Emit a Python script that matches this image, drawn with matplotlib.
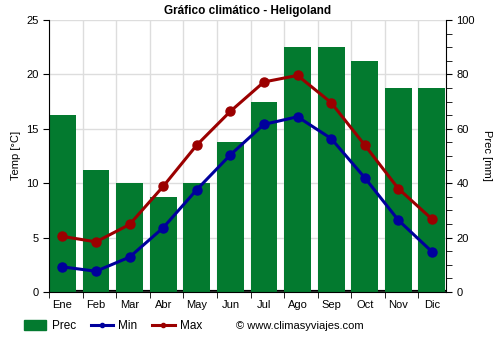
import numpy as np
import matplotlib.pyplot as plt
from matplotlib.patches import Patch
from matplotlib.lines import Line2D

plt.rcParams['font.family'] = ['Liberation Sans', 'DejaVu Sans']

meses = ['Ene', 'Feb', 'Mar', 'Abr', 'May', 'Jun', 'Jul', 'Ago', 'Sep', 'Oct', 'Nov', 'Dic']
prec = [65, 45, 40, 35, 40, 55, 70, 90, 90, 85, 75, 75]
t_min = [2.3, 1.9, 3.2, 5.9, 9.4, 12.6, 15.4, 16.1, 14.1, 10.5, 6.6, 3.7]
t_max = [5.1, 4.6, 6.2, 9.7, 13.5, 16.6, 19.3, 19.9, 17.4, 13.5, 9.5, 6.7]

verde = '#037a2f'
azul = '#00009c'
rojo = '#9b0000'

fig = plt.figure(figsize=(5, 3.5), dpi=100)
ax = fig.add_axes([0.098, 0.166, 0.794, 0.777])
ax2 = ax.twinx()
ax.set_zorder(2)
ax2.set_zorder(1)
ax.patch.set_visible(False)

x = np.arange(len(meses))
xlim = (-0.4, 11.42)

# precipitacion (eje derecho, capa de abajo con la rejilla)
ax2.set_xlim(*xlim)
ax2.set_ylim(0, 100)
ax2.set_yticks(np.arange(0, 101, 20))
ax2.set_yticks(np.arange(0, 101, 5), minor=True)
ax2.grid(True, axis='y', which='major', color='#dddddd', lw=1)
for b in np.arange(12) - 0.4:
    ax2.axvline(b, color='#dddddd', lw=1, zorder=0)
ax2.axhline(0, color='black', lw=3, zorder=1)
ax2.bar(x, prec, width=0.8, color=verde, zorder=2)
ax2.set_ylabel('Prec [mm]', rotation=270, labelpad=12, fontsize=8)

# temperaturas
ax.set_xlim(*xlim)
ax.set_ylim(0, 25)
ax.set_yticks(np.arange(0, 26, 5))
ax.plot(x, t_min, color=azul, lw=2.2, marker='o', ms=6.5)
ax.plot(x, t_max, color=rojo, lw=2.2, marker='o', ms=6.5)
ax.set_ylabel('Temp [°C]', fontsize=8)
ax.set_title('Gráfico climático - Heligoland', fontsize=8.5, fontweight='bold', pad=4)

ax.set_xticks(x)
ax.set_xticklabels(meses)
ax.set_xticks(np.arange(12) - 0.4, minor=True)
ax.tick_params(axis='x', which='major', length=0, pad=6, labelsize=8)
ax.tick_params(axis='x', which='minor', length=4)
ax.tick_params(axis='y', labelsize=8, length=4)
ax2.tick_params(axis='y', which='major', labelsize=8, length=4)
ax2.tick_params(axis='y', which='minor', length=4)
ax2.tick_params(axis='x', bottom=False, labelbottom=False)

for a in (ax, ax2):
    a.spines['top'].set_visible(False)
ax.spines['right'].set_visible(False)
ax2.spines['left'].set_visible(False)
ax2.spines['bottom'].set_visible(False)

handles = [Patch(color=verde),
           Line2D([], [], color=azul, lw=2.2, marker='o', ms=3),
           Line2D([], [], color=rojo, lw=2.2, marker='o', ms=3)]
fig.legend(handles, ['Prec', 'Min', 'Max'], loc='center left', ncol=3,
           bbox_to_anchor=(0.048, 0.068), frameon=False, fontsize=8.5,
           borderpad=0, borderaxespad=0,
           handlelength=1.9, handleheight=0.9, columnspacing=1.25, handletextpad=0.45)
fig.text(0.472, 0.068, '© www.climasyviajes.com', fontsize=8, va='center')

fig.savefig('out.png', dpi=100)
